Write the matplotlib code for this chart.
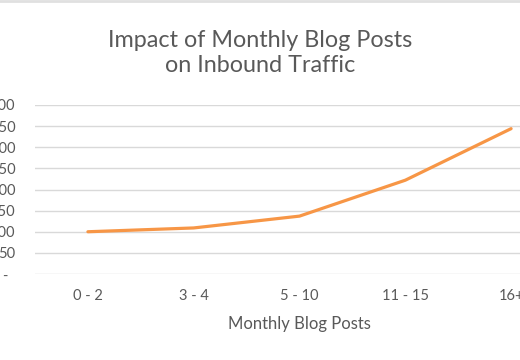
import matplotlib
matplotlib.use("Agg")
import matplotlib.pyplot as plt
from matplotlib.lines import Line2D

plt.rcParams['font.family'] = ['Lato', 'DejaVu Sans']

categories = ['0 - 2', '3 - 4', '5 - 10', '11 - 15', '16+']
traffic = [100, 109, 137, 222, 344]
yticks = [0, 50, 100, 150, 200, 250, 300, 350, 400]
ytick_labels = ['-  ', '50', '100', '150', '200', '250', '300', '350', '400']

text_color = '#595959'
line_color = '#F79646'
grid_color = '#D9D9D9'

W, H = 520, 360
fig = plt.figure(figsize=(W / 100, H / 100), dpi=100)

# plot area runs off the right edge of the picture, like the cropped original
left, right, top, bottom = 35, 564, 105, 274
ax = fig.add_axes([left / W, (H - bottom) / H, (right - left) / W, (bottom - top) / H])

x = list(range(len(categories)))
ax.plot(x, traffic, color=line_color, lw=2.3, solid_capstyle='round',
        solid_joinstyle='round', zorder=3)

ax.set_xlim(-0.5, len(categories) - 0.5)
ax.set_ylim(0, 400)
ax.set_xticks(x)
ax.set_xticklabels(categories)
ax.set_yticks(yticks)
ax.set_yticklabels(ytick_labels)
ax.grid(axis='y', color=grid_color, lw=1)
ax.set_axisbelow(True)
for s in ax.spines.values():
    s.set_visible(False)
ax.tick_params(length=0, colors=text_color, labelsize=10.5)
ax.tick_params(axis='y', pad=14)
ax.tick_params(axis='x', pad=11)

ax.set_xlabel('Monthly Blog Posts', color=text_color, fontsize=12, labelpad=9)

fig.text(260 / W, 1 - 53 / H, 'Impact of Monthly Blog Posts\non Inbound Traffic',
         ha='center', va='center', color=text_color, fontsize=16.8, linespacing=1.22)

# thin grey border at the top of the image
fig.add_artist(Line2D([0, 1], [1 - 1 / H, 1 - 1 / H], color='#E0E0E0', lw=2,
                      transform=fig.transFigure))

fig.savefig('out.png', dpi=100)
